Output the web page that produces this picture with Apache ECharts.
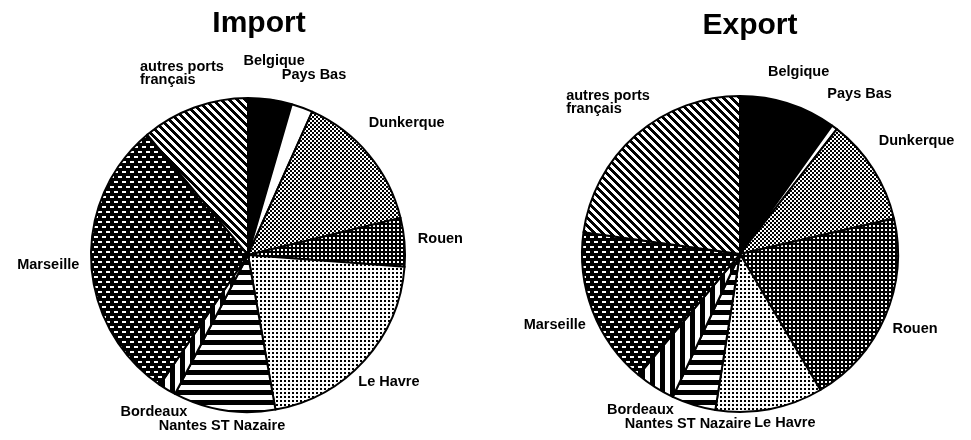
<!DOCTYPE html>
<html>
<head>
<meta charset="utf-8">
<title>Import / Export</title>
<script src="https://cdn.jsdelivr.net/npm/echarts@6/dist/echarts.min.js"></script>
<style>
  html, body { margin: 0; padding: 0; background: #fff; }
  #chart { width: 971px; height: 440px; }
</style>
</head>
<body>
<div id="chart"></div>
<script>
// ports, clockwise from 12 o'clock
var ports = ['Belgique', 'Pays Bas', 'Dunkerque', 'Rouen', 'Le Havre',
             'Nantes ST Nazaire', 'Bordeaux', 'Marseille', 'autres ports\nfrançais'];
// shares in %
var importShare = [4.5, 2.2, 14.5, 5.0, 21.0, 10.5, 1.8, 29.4, 11.1];
var exportShare = [9.9, 0.6, 10.9, 20.1, 11.0, 4.5, 4.1, 16.1, 22.8];

var FONT = '"Liberation Sans", Arial, Helvetica, sans-serif';
var LABEL_SIZE = 14.5;
var LABEL_LH = 13;
var W = 971, H = 440;

// small black/white bitmap tiles used as fills
function tile(w, h, draw) {
    var c = document.createElement('canvas');
    c.width = w; c.height = h;
    var ctx = c.getContext('2d');
    ctx.fillStyle = '#fff';
    ctx.fillRect(0, 0, w, h);
    ctx.fillStyle = '#000';
    draw(ctx);
    return { image: c, repeat: 'repeat' };
}

var fills = [
    '#000',                                           // Belgique
    '#fff',                                           // Pays Bas
    tile(4, 4, function (g) {                         // Dunkerque: checker
        g.fillRect(0, 0, 2, 2); g.fillRect(2, 2, 2, 2);
    }),
    tile(4, 4, function (g) {                         // Rouen: white dots on black
        g.fillRect(0, 0, 4, 4); g.fillStyle = '#fff'; g.fillRect(1, 1, 2, 2);
    }),
    tile(4, 4, function (g) {                         // Le Havre: sparse dots
        g.fillRect(0, 0, 2, 2);
    }),
    tile(10, 10, function (g) {                       // Nantes: horizontal stripes
        g.fillRect(0, 0, 10, 5);
    }),
    tile(10, 10, function (g) {                       // Bordeaux: vertical stripes
        g.fillRect(0, 0, 5, 10);
    }),
    tile(8, 10, function (g) {                        // Marseille: white dashes on black
        g.fillRect(0, 0, 8, 10);
        g.fillStyle = '#fff';
        g.fillRect(2, 1, 4, 2);
        g.fillRect(6, 6, 2, 2); g.fillRect(0, 6, 2, 2);
    }),
    tile(8, 8, function (g) {                         // autres: diagonal stripes
        for (var y = 0; y < 8; y++)
            for (var k = 0; k < 4; k++) g.fillRect((y + k) % 8, y, 1, 1);
    })
];

// labels sit outside the pie on the slice's mid angle, a bit further out at the top,
// then nudged sideways or up/down if they would overlap a neighbour
var measureCtx = document.createElement('canvas').getContext('2d');
measureCtx.font = 'bold ' + LABEL_SIZE + 'px ' + FONT;

function placeLabels(vals, cx, cy, r) {
    var total = vals.reduce(function (a, b) { return a + b; }, 0);
    var acc = 0;
    var items = vals.map(function (v, i) {
        var a = (acc + v / 2) / total * Math.PI * 2;
        acc += v;
        var lw = ports[i].split('\n').map(function (s) { return measureCtx.measureText(s).width; });
        return { ux: Math.sin(a), uy: -Math.cos(a), lw: lw, w: Math.max.apply(null, lw),
                 h: lw.length * LABEL_LH, d: r, ox: 0, oy: 0 };
    });
    function centre(it) { return [it.ux * it.d + it.ox, it.uy * it.d + it.oy]; }
    // distance from the pie edge to the nearest text line
    function gapOf(it) {
        var c = centre(it), left = c[0] - it.w / 2, top = c[1] - it.h / 2, best = Infinity;
        it.lw.forEach(function (lw, k) {
            var x0 = left, x1 = left + lw, y0 = top + k * LABEL_LH, y1 = y0 + LABEL_LH;
            var dx = 0, dy = 0;
            if (x0 > 0) dx = x0; else if (x1 < 0) dx = -x1;
            if (y0 > 0) dy = y0; else if (y1 < 0) dy = -y1;
            best = Math.min(best, Math.sqrt(dx * dx + dy * dy));
        });
        return best - r;
    }
    items.forEach(function (it) {
        var want = 12 - 8 * it.uy;
        while (gapOf(it) < want) it.d += 0.5;
    });
    var placed = [];
    for (var i = items.length - 1; i >= 0; i--) {
        var it = items[i];
        for (var guard = 0; guard < 20; guard++) {
            var hit = null;
            placed.forEach(function (p) {
                var a = centre(it), b = centre(p);
                if (Math.abs(a[0] - b[0]) < (it.w + p.w) / 2 + 3 &&
                    Math.abs(a[1] - b[1]) < (it.h + p.h) / 2 + 1) hit = p;
            });
            if (!hit) break;
            var a = centre(it), b = centre(hit);
            var sx = ((it.w + hit.w) / 2 + 3 - Math.abs(a[0] - b[0])) * (a[0] >= b[0] ? 1 : -1);
            var sy = ((it.h + hit.h) / 2 + 1 - Math.abs(a[1] - b[1])) * (a[1] >= b[1] ? 1 : -1);
            var newY = cy + a[1] + sy;
            var yFits = newY - it.h / 2 >= 0 && newY + it.h / 2 <= H - 2;
            if (yFits && Math.abs(sy) <= Math.abs(sx)) it.oy += sy; else it.ox += sx;
        }
        placed.push(it);
    }
    return items.map(function (it) {
        var c = centre(it);
        return { x: cx + c[0] - it.w / 2, y: cy + c[1] };
    });
}

function pieSeries(name, vals, cx, cy, r) {
    var spots = placeLabels(vals, cx, cy, r);
    return {
        name: name,
        type: 'pie',
        center: [cx, cy],
        radius: r,
        startAngle: 90,
        clockwise: true,
        minAngle: 0,
        avoidLabelOverlap: false,
        silent: true,
        data: vals.map(function (v, i) {
            return { name: ports[i], value: v, itemStyle: { color: fills[i] } };
        }),
        itemStyle: { borderColor: '#000', borderWidth: 2 },
        label: {
            show: true,
            position: 'outside',
            formatter: '{b}',
            color: '#000',
            fontFamily: FONT,
            fontSize: LABEL_SIZE,
            fontWeight: 'bold',
            lineHeight: LABEL_LH
        },
        labelLine: { show: false },
        labelLayout: function (p) {
            var s = spots[p.dataIndex];
            return { x: s.x, y: s.y, align: 'left', verticalAlign: 'middle' };
        }
    };
}

var chart = echarts.init(document.getElementById('chart'), null, { renderer: 'canvas' });

var option = {
    animation: false,
    backgroundColor: '#fff',
    title: [
        { text: 'Import', left: 254, top: 4, textAlign: 'center',
          textStyle: { fontFamily: FONT, fontSize: 30, fontWeight: 'bold', color: '#000' } },
        { text: 'Export', left: 745, top: 6, textAlign: 'center',
          textStyle: { fontFamily: FONT, fontSize: 30, fontWeight: 'bold', color: '#000' } }
    ],
    series: [
        pieSeries('Import', importShare, 248, 255, 157),
        pieSeries('Export', exportShare, 740, 254, 158)
    ]
};

chart.setOption(option);
window.addEventListener('resize', function () {
    chart.resize();
});
</script>
</body>
</html>
